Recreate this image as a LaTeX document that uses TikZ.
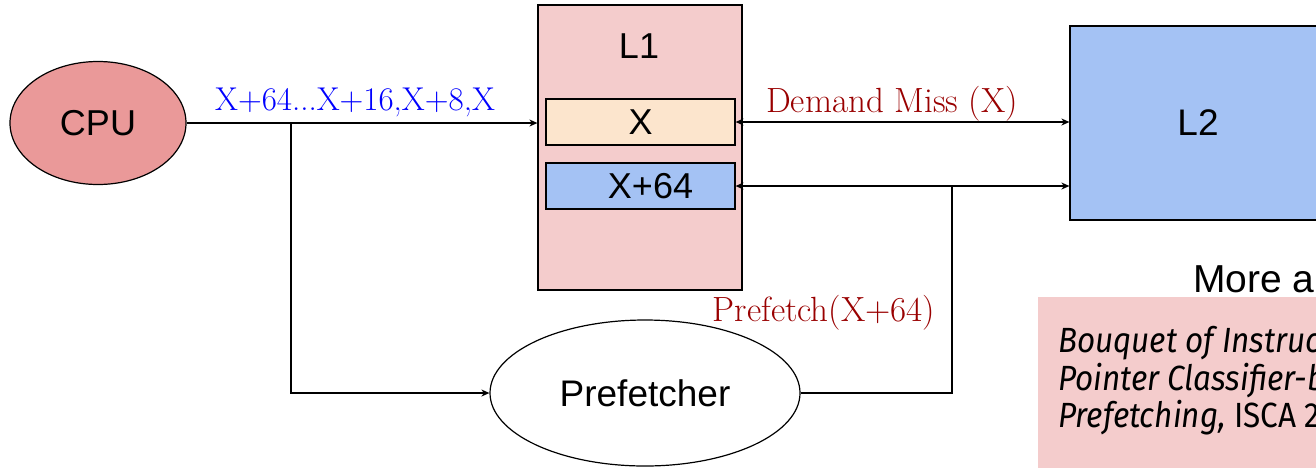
\documentclass[tikz,border=0pt]{standalone}
\usepackage{fontspec}
\newfontfamily\arialfont{Liberation Sans}
\newfontfamily\citefont[FakeStretch=0.9]{Fira Sans}
\usetikzlibrary{shapes.geometric,arrows.meta}

\definecolor{cpured}{HTML}{EA9999}
\definecolor{cachepink}{HTML}{F4CCCC}
\definecolor{linepeach}{HTML}{FCE5CD}
\definecolor{lineblue}{HTML}{A4C2F4}
\definecolor{labelred}{HTML}{990000}
\definecolor{labelblue}{HTML}{0000FF}

\tikzset{
  wire/.style={line width=1.2pt, draw=black},
  tipend/.style={wire, -{Stealth[length=8pt,width=7pt,inset=2.5pt]}},
  bothends/.style={wire, {Stealth[length=8pt,width=7pt,inset=2.5pt]}-{Stealth[length=8pt,width=7pt,inset=2.5pt]}},
  sans/.style={font=\arialfont\fontsize{#1}{#1}\selectfont},
  blockbox/.style={draw=black, line width=1.2pt, inner sep=0pt},
  lineslot/.style={blockbox, minimum width=189, minimum height=46, sans=36},
  edgelabel/.style={font=\fontsize{#1}{#1}\selectfont, anchor=base, inner sep=0pt},
  citeline/.style={font=\citefont\itshape\fontsize{35}{35}\selectfont, anchor=base west, inner sep=0pt},
}

\begin{document}
\begin{tikzpicture}[x=1pt,y=-1pt]
\useasboundingbox (0,0) rectangle (1316,467);
\clip (0,0) rectangle (1316,467);

% components
\node[ellipse, blockbox, fill=cpured, minimum width=176, minimum height=123, sans=36] (cpu) at (98,123) {CPU};
\node[blockbox, fill=cachepink, minimum width=204, minimum height=285] (l1) at (640,147.5) {};
\node[sans=36, inner sep=0pt] (l1name) at (639,46) {L1};
\node[lineslot, fill=linepeach] (x) at (640.5,122) {X};
\node[lineslot, fill=lineblue] (x64) at (640.5,186) {\hspace*{20pt}X+64};
\node[blockbox, fill=lineblue, minimum width=256, minimum height=194, sans=37] (l2) at (1198,123) {L2};
\node[ellipse, blockbox, fill=white, minimum width=310, minimum height=146, sans=37] (pf) at (645,393) {Prefetcher};

% access stream from the core
\coordinate (split) at (291,123);
\draw[tipend] (cpu.east) -- (l1.west |- cpu.east);
\draw[tipend] (split) |- (pf.west);

% L1 <-> L2 traffic
\draw[bothends] (x.east) -- (x.east -| l2.west);
\draw[bothends] (x64.east) -- (x64.east -| l2.west);
\coordinate (join) at (952,186);
\draw[wire] (pf.east) -| (join);

% labels
\node[edgelabel=33, text=labelblue] (seq) at (355,110) {X+64...X+16,X+8,X};
\node[edgelabel=35, text=labelred] (miss) at (892,112) {Demand Miss (X)};
\node[edgelabel=35, text=labelred] (pfreq) at (824,321) {Prefetch(X+64)};

% reference panel
\node[sans=39, anchor=base west, inner sep=0pt] (more) at (1193,292) {More about};
\node[fill=cachepink, anchor=north west, minimum width=300, minimum height=190, inner sep=0pt] (refbox) at (1038,297) {};
\node[citeline] (ref1) at (1058,352) {Bouquet of Instruction Pointers: Instruction};
\node[citeline] (ref2) at (1058,390) {Pointer Classifier-based Spatial Hardware};
\node[citeline] (ref3) at (1058,427) {Prefetching,\upshape{} ISCA 2020};
\end{tikzpicture}
\end{document}
